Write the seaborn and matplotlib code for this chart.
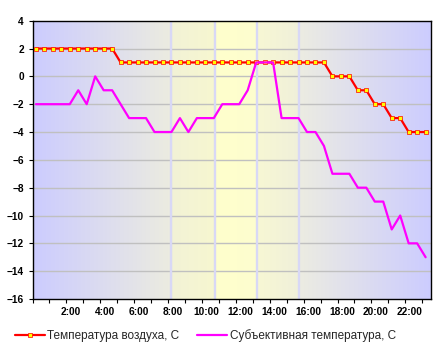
import numpy as np
import pandas as pd
import matplotlib
matplotlib.use("Agg")
import matplotlib.pyplot as plt
import seaborn as sns

# ---- data ----
times = ["00:12", "00:42", "01:12", "01:42", "02:12", "02:42", "03:12", "03:42",
         "04:12", "04:42", "05:12", "05:42", "06:12", "06:42", "07:12", "07:42",
         "08:12", "08:42", "09:12", "09:42", "10:12", "10:42", "11:12", "11:42",
         "12:12", "12:42", "13:12", "13:42", "14:12", "14:42", "15:12", "15:42",
         "16:12", "16:42", "17:12", "17:42", "18:12", "18:42", "19:12", "19:42",
         "20:12", "20:42", "21:12", "21:42", "22:12", "22:42", "23:12"]
air_temp = [2, 2, 2, 2, 2, 2, 2, 2, 2, 2,
            1, 1, 1, 1, 1, 1, 1, 1, 1, 1, 1, 1, 1, 1, 1, 1, 1, 1, 1, 1, 1, 1, 1, 1, 1,
            0, 0, 0, -1, -1, -2, -2, -3, -3, -4, -4, -4]
feels_temp = [-2, -2, -2, -2, -2, -1, -2, 0, -1, -1, -2, -3, -3, -3, -4, -4, -4,
              -3, -4, -3, -3, -3, -2, -2, -2, -1, 1, 1, 1, -3, -3, -3, -4, -4, -5,
              -7, -7, -7, -8, -8, -9, -9, -11, -10, -12, -12, -13]
hour_labels = ["2:00", "4:00", "6:00", "8:00", "10:00", "12:00", "14:00",
               "16:00", "18:00", "20:00", "22:00"]
label_hours = [2, 4, 6, 8, 10, 12, 14, 16, 18, 20, 22]
event_hours = [8.18, 10.76, 13.24, 15.73]
series_names = ["Температура воздуха, С", "Субъективная температура, С"]

hours = [int(t[:2]) + int(t[3:]) / 60 for t in times]
df = pd.DataFrame({"hour": hours, "air": air_temp, "feels": feels_temp})

# ---- style ----
sns.set_theme(style="white")
plt.rcParams["font.family"] = ["Liberation Sans", "DejaVu Sans"]
plt.rcParams["axes.unicode_minus"] = True

fig = plt.figure(figsize=(4.44, 3.52), dpi=100)
ax = fig.add_axes([32.5 / 444, 1 - 299 / 352, (430.7 - 32.5) / 444, (299 - 20.7) / 352])

XMAX = 23.5
YMIN, YMAX = -16, 4

# background gradient
stops = [
    (0.0, (204, 204, 255)), (8.18, (236, 236, 224)),
    (8.1801, (242, 242, 214)), (10.76, (247, 247, 208)),
    (10.7601, (255, 255, 204)), (13.24, (253, 253, 207)),
    (13.2401, (247, 247, 212)), (15.73, (240, 240, 218)),
    (15.7301, (236, 236, 226)), (XMAX, (204, 204, 255)),
]
xs = np.linspace(0, XMAX, 800)
sx = [s[0] for s in stops]
cols = np.stack([np.interp(xs, sx, [s[1][i] for s in stops]) for i in range(3)], axis=-1) / 255
ax.imshow(cols[np.newaxis, :, :], extent=[0, XMAX, YMIN, YMAX], aspect="auto",
          zorder=0, interpolation="bilinear")

# grid
for y in range(YMIN + 2, YMAX, 2):
    ax.axhline(y, color="#C0C0C0", lw=1.0, zorder=1)
for h in event_hours:
    ax.axvline(h, color="#D8D8F6", lw=1.7, zorder=1)

sns.lineplot(data=df, x="hour", y="air", ax=ax, color="#FF0000", lw=1.6,
             marker="s", markersize=2.4, markerfacecolor="#FFFF00",
             markeredgecolor="#FF0000", markeredgewidth=0.5,
             label=series_names[0], zorder=3)
sns.lineplot(data=df, x="hour", y="feels", ax=ax, color="#FF00FF", lw=1.6,
             label=series_names[1], zorder=3)

ax.set_xlim(0, XMAX)
ax.set_ylim(YMIN, YMAX)
ax.set_xlabel("")
ax.set_ylabel("")

ax.set_yticks(range(YMIN, YMAX + 1, 2))
ax.set_xticks(range(0, 24))
ax.set_xticklabels([])
ax.set_xticks([h + 0.27 for h in label_hours], minor=True)
ax.set_xticklabels(hour_labels, minor=True)
ax.tick_params(axis="x", which="major", direction="out", length=3.2, width=0.8,
               color="black", bottom=True)
ax.tick_params(axis="x", which="minor", length=0, pad=5.5, labelsize=7.3)
ax.tick_params(axis="y", direction="out", length=3.2, width=0.8, color="black",
               left=True, pad=3, labelsize=7.3)
for lab in ax.get_xticklabels(minor=True) + ax.get_yticklabels():
    lab.set_fontweight("bold")
    lab.set_color("black")

for sp in ax.spines.values():
    sp.set_visible(True)
    sp.set_color("black")
    sp.set_linewidth(1.0)

handles, labels = ax.get_legend_handles_labels()
ax.legend_.remove()
fig.legend(handles, labels, loc="center left", bbox_to_anchor=(15 / 444, 1 - 336 / 352),
           ncol=2, frameon=False, fontsize=8.5, handlelength=2.5, handletextpad=0.25,
           columnspacing=1.5, borderpad=0, borderaxespad=0)

fig.savefig("out.png", dpi=100)
